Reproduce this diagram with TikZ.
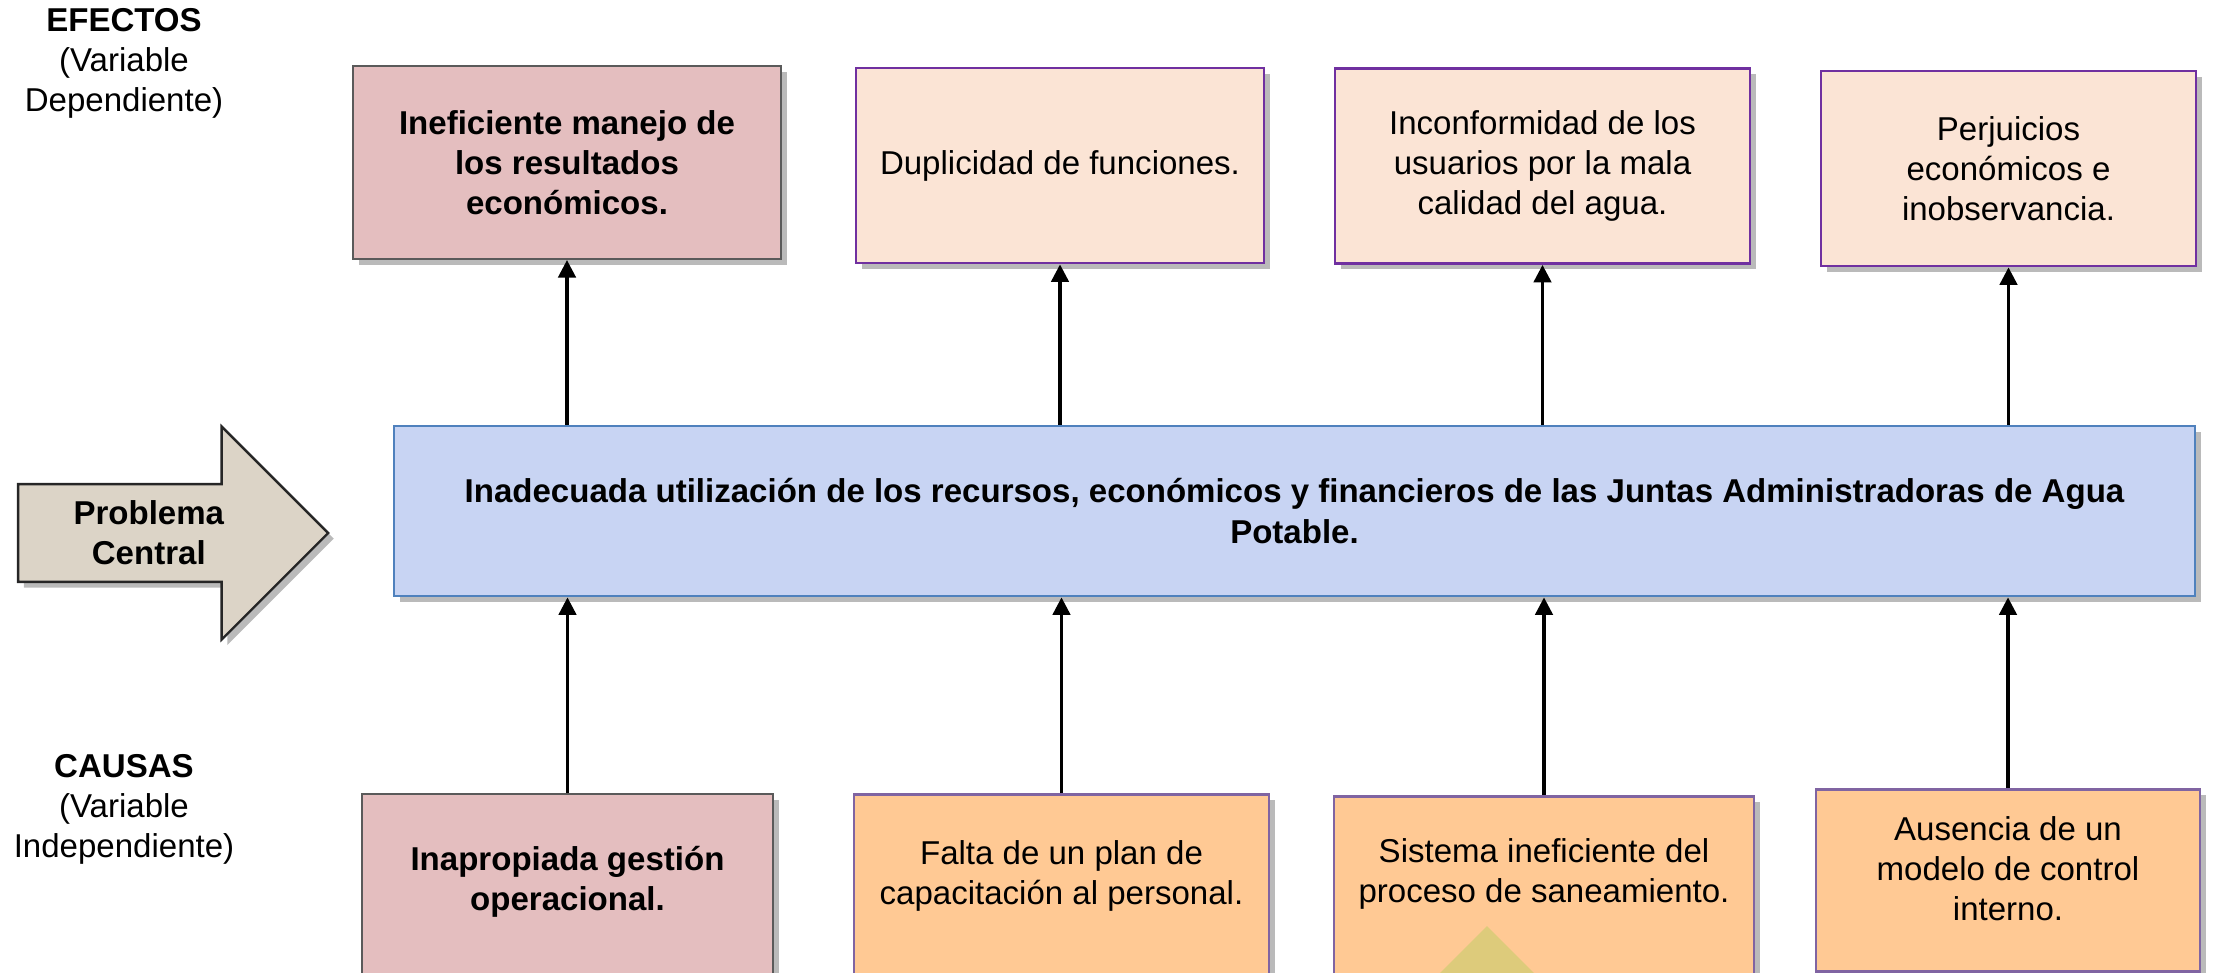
\documentclass[tikz,border=0pt]{standalone}
\usepackage{fontspec}
\setmainfont{Liberation Sans}
\usetikzlibrary{shapes,arrows.meta,shadows}
\definecolor{rosa}{HTML}{E4BEBF}
\definecolor{grisborde}{HTML}{5A5A5A}
\definecolor{durazno}{HTML}{FBE4D5}
\definecolor{morado}{HTML}{7030A0}
\definecolor{naranja}{HTML}{FFC994}
\definecolor{lila}{HTML}{8064A2}
\definecolor{celeste}{HTML}{C8D4F3}
\definecolor{azulborde}{HTML}{4F81BD}
\definecolor{beige}{HTML}{DCD4C7}
\definecolor{mostaza}{HTML}{DDCB7B}
\tikzset{
  flecha/.style={-{Triangle[width=5pt,length=5pt]}, line width=0.9pt},
  sombra/.style={drop shadow={shadow xshift=1.6pt, shadow yshift=-1.6pt, opacity=0.45, fill=black!60}},
  cajabase/.style={rectangle, align=center, inner sep=0pt, font=\fontsize{9.4}{11.4}\selectfont},
  textocaja/.style={align=center, inner sep=0pt, font=\fontsize{9.4}{11.4}\selectfont},
  textofuerte/.style={textocaja, font=\fontsize{9.4}{11.4}\selectfont\bfseries},
  fuertebox/.style={cajabase, fill=rosa, draw=grisborde, line width=0.6pt, sombra, font=\fontsize{9.4}{11.4}\selectfont\bfseries},
  efectobox/.style={cajabase, fill=durazno, draw=morado, line width=0.8pt, sombra, minimum height=1.95cm},
  causabox/.style={cajabase, fill=naranja, draw=lila, line width=0.8pt, sombra},
  problemabox/.style={cajabase, fill=celeste, draw=azulborde, line width=0.8pt, sombra, font=\fontsize{9.4}{11.4}\selectfont\bfseries},
  problemaflecha/.style={single arrow, fill=beige, draw=black!85, line width=0.7pt, sombra, align=center, inner xsep=0pt, inner ysep=0.12cm, font=\fontsize{9.4}{11.4}\selectfont\bfseries},
  etiqueta/.style={align=center, inner sep=0pt, font=\fontsize{9.4}{11.4}\selectfont},
  triangulo/.style={fill=mostaza}
}
\newcommand{\efecto}[4] {\node at (#1) (#2) [efectobox, #3] {#4};}
\newcommand{\fuerte}[4] {\node at (#1) (#2) [fuertebox, #3] {#4};}
\newcommand{\causa}[5] {\node at (#1) (#2) [causabox, anchor=north, #3] {}; \node at ([yshift=-#4cm]#2.north) (#2texto) [textocaja] {#5};}
\newcommand{\causafuerte}[5] {\node at (#1) (#2) [fuertebox, anchor=north, #3] {}; \node at ([yshift=-#4cm]#2.north) (#2texto) [textofuerte] {#5};}
\newcommand{\haciaefecto}[1] {\draw [flecha] (#1.south |- problema.north) -- (#1.south);}
\newcommand{\desdecausa}[1] {\draw [flecha] (#1.north) -- (#1.north |- problema.south);}

\begin{document}
\begin{tikzpicture}

\useasboundingbox (0,0) rectangle (22.16,-9.72);
\clip (0,0) rectangle (22.16,-9.72);

\node at (1.24,-0.63) (efectos) [etiqueta] {\textbf{EFECTOS}\\(Variable\\Dependiente)};
\node at (1.24,-8.09) (causas) [etiqueta] {\textbf{CAUSAS}\\(Variable\\Independiente)};

\fuerte{5.67,-1.625}{ineficiente}{minimum width=4.28cm, minimum height=1.93cm}{Ineficiente manejo de\\los resultados\\económicos.}
\efecto{10.60,-1.655}{duplicidad}{minimum width=4.08cm}{Duplicidad de funciones.}
\efecto{15.425,-1.66}{inconformidad}{minimum width=4.15cm}{Inconformidad de los\\usuarios por la mala\\calidad del agua.}
\efecto{20.085,-1.685}{perjuicios}{minimum width=3.75cm}{Perjuicios\\económicos e\\inobservancia.}

\node at (12.945,-5.11) (problema) [problemabox, minimum width=18.01cm, minimum height=1.70cm] {Inadecuada utilización de los recursos, económicos y financieros de las Juntas Administradoras de Agua\\Potable.};
\node at (0.17,-5.33) (central) [problemaflecha, anchor=tail, minimum height=3.10cm, minimum width=2.13cm, single arrow head extend=0.535cm] {Problema\\Central};

\causafuerte{5.675,-7.93}{inapropiada}{minimum width=4.11cm, minimum height=2.2cm}{0.89}{Inapropiada gestión\\operacional.}
\causa{10.615,-7.93}{falta}{minimum width=4.15cm, minimum height=2.2cm}{0.83}{Falta de un plan de\\capacitación al personal.}
\causa{15.44,-7.95}{sistema}{minimum width=4.20cm, minimum height=2.2cm}{0.79}{Sistema ineficiente del\\proceso de saneamiento.}
\causa{20.08,-7.88}{ausencia}{minimum width=3.84cm, minimum height=1.82cm}{0.81}{Ausencia de un\\modelo de control\\interno.}
\fill [triangulo] (14.87,-9.26) -- (14.33,-9.80) -- (15.41,-9.80) -- cycle;

\haciaefecto{ineficiente}
\haciaefecto{duplicidad}
\haciaefecto{inconformidad}
\haciaefecto{perjuicios}

\desdecausa{inapropiada}
\desdecausa{falta}
\desdecausa{sistema}
\desdecausa{ausencia}

\end{tikzpicture}
\end{document}
